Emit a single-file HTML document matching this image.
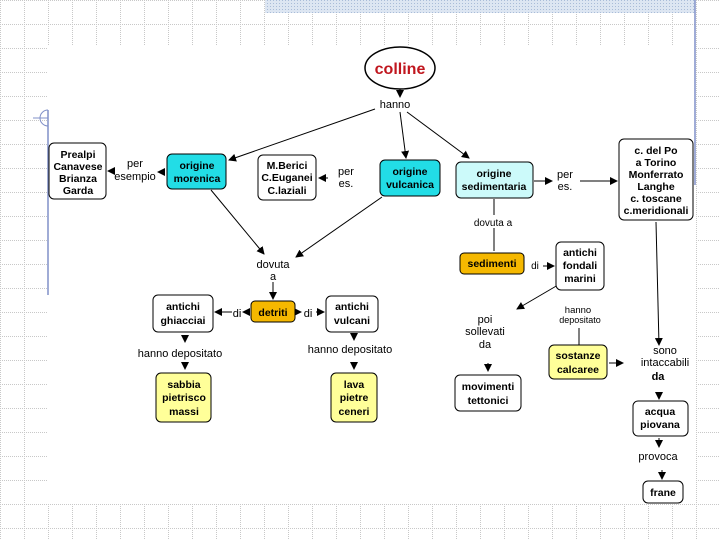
<!DOCTYPE html>
<html><head><meta charset="utf-8"><style>
html,body{margin:0;padding:0;background:#fff;}
svg{display:block;font-family:"Liberation Sans",sans-serif;}
.b{font-weight:bold;font-size:10.5px;text-anchor:middle;fill:#000}
.l{font-size:11px;text-anchor:middle;fill:#000}
.box{stroke:#000;stroke-width:1}
.ln{stroke:#000;stroke-width:1;fill:none}
</style></head><body>
<svg width="720" height="540" viewBox="0 0 720 540" xmlns="http://www.w3.org/2000/svg">
<defs>
<pattern id="g" width="24" height="24" patternUnits="userSpaceOnUse">
<path d="M0 0.5H24M0.5 0V24" stroke="#c8c8c8" stroke-width="1" stroke-dasharray="1 1"/>
</pattern>
<pattern id="h" width="3" height="3" patternUnits="userSpaceOnUse">
<rect width="3" height="3" fill="#dde6f2"/><rect width="1" height="1" fill="#a9bcd8"/>
</pattern>
<marker id="a" markerWidth="8" markerHeight="8" refX="7" refY="4" orient="auto" markerUnits="userSpaceOnUse">
<path d="M0 0L8 4L0 8z" fill="#000"/></marker>
</defs>
<rect width="720" height="540" fill="url(#g)"/>
<rect x="48" y="45" width="647" height="458" fill="#fff"/>
<rect x="265" y="0" width="430" height="13" fill="url(#h)"/>
<line x1="48" y1="110" x2="48" y2="295" stroke="#8090c8" stroke-width="1.5"/>
<path d="M33 118H48M48 110A8 8 0 0 0 48 126" stroke="#8090c8" fill="none"/>
<line x1="695" y1="0" x2="695" y2="185" stroke="#8090c8" stroke-width="1.5"/>

<!-- connectors -->
<g class="ln">
<line x1="400" y1="88" x2="400" y2="97" marker-end="url(#a)"/>
<line x1="375" y1="109" x2="229" y2="160" marker-end="url(#a)"/>
<line x1="400" y1="112" x2="406" y2="158" marker-end="url(#a)"/>
<line x1="407" y1="112" x2="469" y2="158" marker-end="url(#a)"/>
<line x1="165" y1="172" x2="158" y2="172" marker-end="url(#a)"/>
<line x1="112" y1="171" x2="108" y2="171" marker-end="url(#a)"/>
<line x1="328" y1="178" x2="319" y2="178" marker-end="url(#a)"/>
<line x1="211" y1="190" x2="264" y2="254" marker-end="url(#a)"/>
<line x1="382" y1="197" x2="296" y2="257" marker-end="url(#a)"/>
<line x1="534" y1="181" x2="552" y2="181" marker-end="url(#a)"/>
<line x1="580" y1="181" x2="617" y2="181" marker-end="url(#a)"/>
<line x1="494" y1="199" x2="494" y2="215"/>
<line x1="494" y1="228" x2="494" y2="251"/>
<line x1="273" y1="282" x2="273" y2="299" marker-end="url(#a)"/>
<line x1="249" y1="312" x2="243" y2="312" marker-end="url(#a)"/>
<line x1="232" y1="312" x2="215" y2="312" marker-end="url(#a)"/>
<line x1="296" y1="312" x2="301" y2="312" marker-end="url(#a)"/>
<line x1="316" y1="312" x2="324" y2="312" marker-end="url(#a)"/>
<line x1="185" y1="336" x2="185" y2="342" marker-end="url(#a)"/>
<line x1="185" y1="362" x2="185" y2="369" marker-end="url(#a)"/>
<line x1="354" y1="334" x2="354" y2="340" marker-end="url(#a)"/>
<line x1="354" y1="362" x2="354" y2="369" marker-end="url(#a)"/>
<line x1="543" y1="266" x2="554" y2="266" marker-end="url(#a)"/>
<line x1="656" y1="222" x2="659" y2="345" marker-end="url(#a)"/>
<line x1="558" y1="285" x2="517" y2="309" marker-end="url(#a)"/>
<line x1="579" y1="328" x2="579" y2="345"/>
<line x1="609" y1="363" x2="623" y2="363" marker-end="url(#a)"/>
<line x1="488" y1="363" x2="488" y2="371" marker-end="url(#a)"/>
<line x1="659" y1="392" x2="659" y2="399" marker-end="url(#a)"/>
<line x1="659" y1="438" x2="659" y2="447" marker-end="url(#a)"/>
<line x1="662" y1="470" x2="662" y2="479" marker-end="url(#a)"/>
</g>

<!-- nodes -->
<ellipse cx="400" cy="68" rx="35" ry="21" fill="#fff" stroke="#000" stroke-width="1.5"/>
<text x="400" y="74" font-size="16" font-weight="bold" fill="#c0161e" text-anchor="middle">colline</text>

<rect class="box" x="49" y="143" width="57" height="56" rx="5" fill="#fff"/>
<text class="b" x="78" y="158">Prealpi</text><text class="b" x="78" y="170">Canavese</text><text class="b" x="78" y="182">Brianza</text><text class="b" x="78" y="194">Garda</text>

<rect class="box" x="167" y="154" width="59" height="35" rx="5" fill="#22dde6"/>
<text class="b" x="197" y="169" fill="#111">origine</text><text class="b" x="197" y="182">morenica</text>

<rect class="box" x="258" y="155" width="58" height="45" rx="5" fill="#fff"/>
<text class="b" x="287" y="169">M.Berici</text><text class="b" x="287" y="181">C.Euganei</text><text class="b" x="287" y="194">C.laziali</text>

<rect class="box" x="380" y="160" width="60" height="36" rx="5" fill="#22dde6"/>
<text class="b" x="410" y="175">origine</text><text class="b" x="410" y="188">vulcanica</text>

<rect class="box" x="456" y="162" width="77" height="36" rx="5" fill="#ccfafa"/>
<text class="b" x="494" y="177">origine</text><text class="b" x="494" y="190">sedimentaria</text>

<rect class="box" x="619" y="139" width="74" height="81" rx="5" fill="#fff"/>
<text class="b" x="656" y="154">c. del Po</text><text class="b" x="656" y="166">a Torino</text><text class="b" x="656" y="178">Monferrato</text><text class="b" x="656" y="190">Langhe</text><text class="b" x="656" y="202">c. toscane</text><text class="b" x="656" y="214">c.meridionali</text>

<rect class="box" x="460" y="253" width="64" height="21" rx="4" fill="#f5b800"/>
<text class="b" x="492" y="267">sedimenti</text>

<rect class="box" x="556" y="242" width="48" height="48" rx="5" fill="#fff"/>
<text class="b" x="580" y="256">antichi</text><text class="b" x="580" y="269">fondali</text><text class="b" x="580" y="282">marini</text>

<rect class="box" x="251" y="301" width="44" height="21" rx="4" fill="#f5b800"/>
<text class="b" x="273" y="316">detriti</text>

<rect class="box" x="153" y="295" width="60" height="37" rx="5" fill="#fff"/>
<text class="b" x="183" y="310">antichi</text><text class="b" x="183" y="324">ghiacciai</text>

<rect class="box" x="326" y="296" width="52" height="36" rx="5" fill="#fff"/>
<text class="b" x="352" y="310">antichi</text><text class="b" x="352" y="324">vulcani</text>

<rect class="box" x="156" y="373" width="55" height="49" rx="5" fill="#ffff99"/>
<text class="b" x="184" y="388">sabbia</text><text class="b" x="184" y="401">pietrisco</text><text class="b" x="184" y="415">massi</text>

<rect class="box" x="331" y="373" width="46" height="49" rx="5" fill="#ffff99"/>
<text class="b" x="354" y="388">lava</text><text class="b" x="354" y="401">pietre</text><text class="b" x="354" y="415">ceneri</text>

<rect class="box" x="549" y="345" width="58" height="34" rx="5" fill="#ffff99"/>
<text class="b" x="578" y="359">sostanze</text><text class="b" x="578" y="373">calcaree</text>

<rect class="box" x="455" y="375" width="66" height="36" rx="5" fill="#fff"/>
<text class="b" x="488" y="390">movimenti</text><text class="b" x="488" y="404">tettonici</text>

<rect class="box" x="633" y="401" width="55" height="35" rx="5" fill="#fff"/>
<text class="b" x="660" y="415">acqua</text><text class="b" x="660" y="428">piovana</text>

<rect class="box" x="643" y="481" width="40" height="22" rx="5" fill="#fff"/>
<text class="b" x="663" y="496">frane</text>

<!-- labels -->
<text class="l" x="395" y="108">hanno</text>
<text class="l" x="135" y="167">per</text><text class="l" x="135" y="180">esempio</text>
<text class="l" x="346" y="175">per</text><text class="l" x="346" y="187">es.</text>
<text class="l" x="565" y="178">per</text><text class="l" x="565" y="190">es.</text>
<text class="b" x="493" y="226" style="font-weight:normal;font-size:10px">dovuta a</text>
<text class="l" x="273" y="268">dovuta</text><text class="l" x="273" y="280">a</text>
<text class="l" x="535" y="269" style="font-size:10px">di</text>
<text class="l" x="237" y="317">di</text>
<text class="l" x="308" y="317">di</text>
<text class="l" x="180" y="357">hanno depositato</text>
<text class="l" x="350" y="353">hanno depositato</text>
<text class="l" x="578" y="313" style="font-size:9.5px">hanno</text>
<text class="l" x="580" y="323" style="font-size:9px">depositato</text>
<text class="l" x="485" y="323">poi</text><text class="l" x="485" y="335">sollevati</text><text class="l" x="485" y="348">da</text>
<text class="l" x="665" y="354">sono</text><text class="l" x="665" y="366">intaccabili</text><text class="b" x="658" y="380" style="font-size:11px">da</text>
<text class="l" x="658" y="460">provoca</text>
</svg>
</body></html>
